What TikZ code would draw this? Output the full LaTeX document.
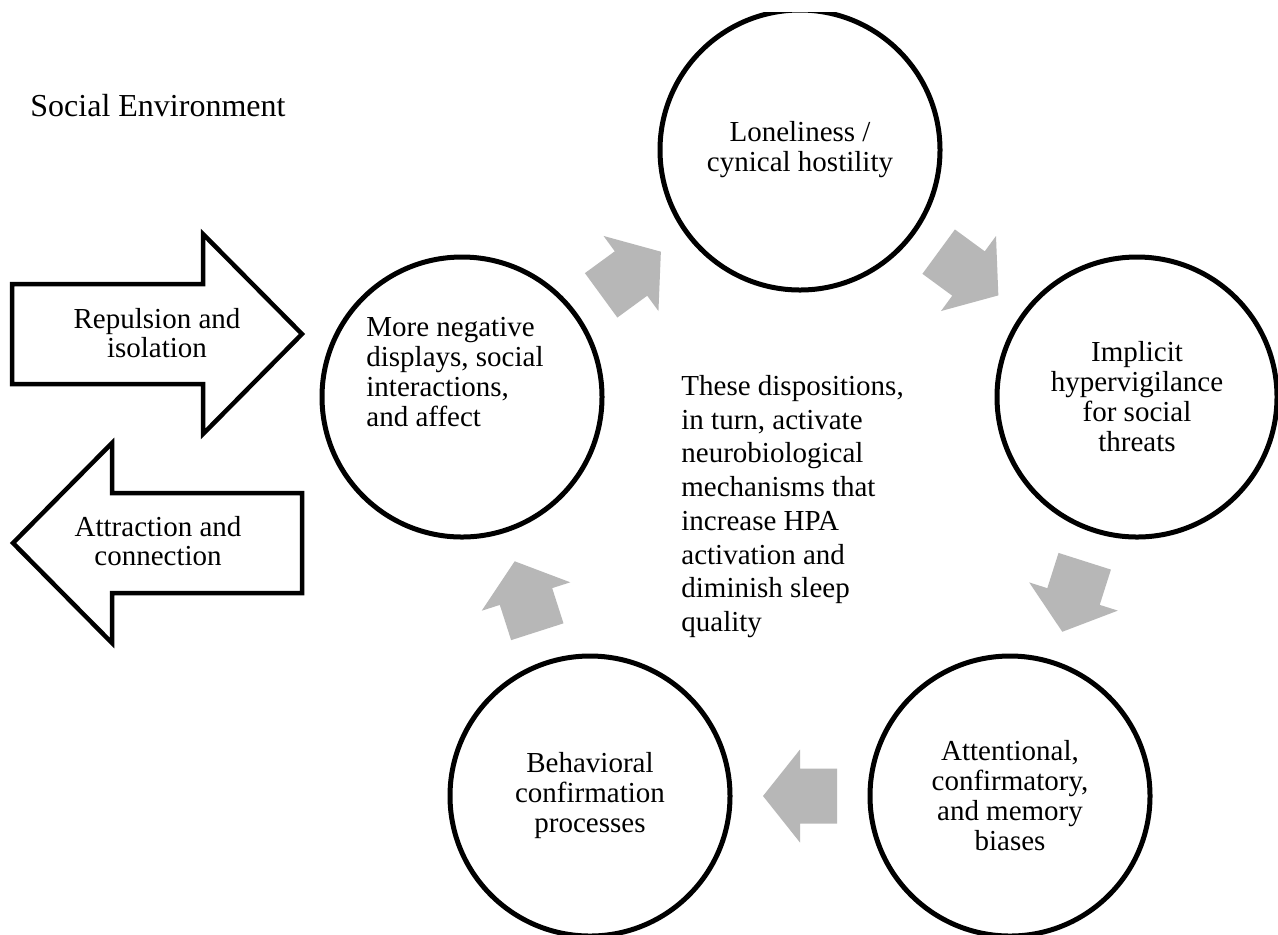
\documentclass[tikz,border=0pt]{standalone}
\usepackage{fontspec}
\setmainfont{Liberation Serif}
\usetikzlibrary{calc}
\definecolor{arrowgray}{RGB}{183,183,183}
\tikzset{
  circ/.style={circle, draw=black, line width=2.5pt, minimum size=140pt, inner sep=0pt,
    align=center, font=\fontsize{14.5}{15}\selectfont},
  txt/.style={inner sep=0pt, font=\fontsize{14.5}{14.8}\selectfont},
  blockarrow/.style={draw=black, line width=2.25pt, fill=white, line join=miter},
  cycarrow/.pic={
    \fill[arrowgray] (-37,-27.5) -- (0,-27.5) -- (0,-46.5) -- (37,0) -- (0,46.5)
      -- (0,27.5) -- (-37,27.5) -- cycle;
  },
}
\begin{document}
\begin{tikzpicture}[x=0.5pt,y=-0.5pt]
\useasboundingbox (0,0) rectangle (1278,934);
\fill[white] (0,0) rectangle (1278,934);

\node[inner sep=0pt, anchor=base west, font=\fontsize{16}{19}\selectfont] (social) at (30,116) {Social Environment};

\begin{scope}
\clip (0,12) rectangle (1278,934);
\node[circ] (top) at (800,150) {Loneliness /\\cynical hostility};
\node[circ] (right) at (1137,397) {Implicit\\hypervigilance\\for social\\threats};
\node[circ] (bright) at (1010,796) {Attentional,\\confirmatory,\\and memory\\biases};
\node[circ] (bleft) at (590,796) {Behavioral\\confirmation\\processes};
\node[circ] (left) at (462,397) {};
\end{scope}

\node[txt, align=left, anchor=north west, font=\fontsize{14.5}{15}\selectfont] (lefttxt) at (366,317)
  {More negative\\displays, social\\interactions,\\and affect};

\path (left) -- (top) pic[midway, sloped, allow upside down] {cycarrow};
\path (top) -- (right) pic[midway, sloped, allow upside down] {cycarrow};
\path (right) -- (bright) pic[midway, sloped, allow upside down] {cycarrow};
\path (bright) -- (bleft) pic[midway, sloped, allow upside down] {cycarrow};
\path (bleft) -- (left) pic[midway, sloped, allow upside down] {cycarrow};

\node[txt, align=left, anchor=north west, font=\fontsize{14.5}{16.85}\selectfont] (center) at (681,375)
  {These dispositions,\\in turn, activate\\neurobiological\\mechanisms that\\increase HPA\\activation and\\diminish sleep\\quality};

\draw[blockarrow] (12,284) -- (203,284) -- (203,234) -- (302,334) -- (203,434) -- (203,384) -- (12,384) -- cycle;
\node[txt, align=center] (repulsion) at (157,333) {Repulsion and\\isolation};

\draw[blockarrow] (302,493) -- (112,493) -- (112,443) -- (13,543) -- (112,643) -- (112,593) -- (302,593) -- cycle;
\node[txt, align=center] (attraction) at (158,541) {Attraction and\\connection};
\end{tikzpicture}
\end{document}
